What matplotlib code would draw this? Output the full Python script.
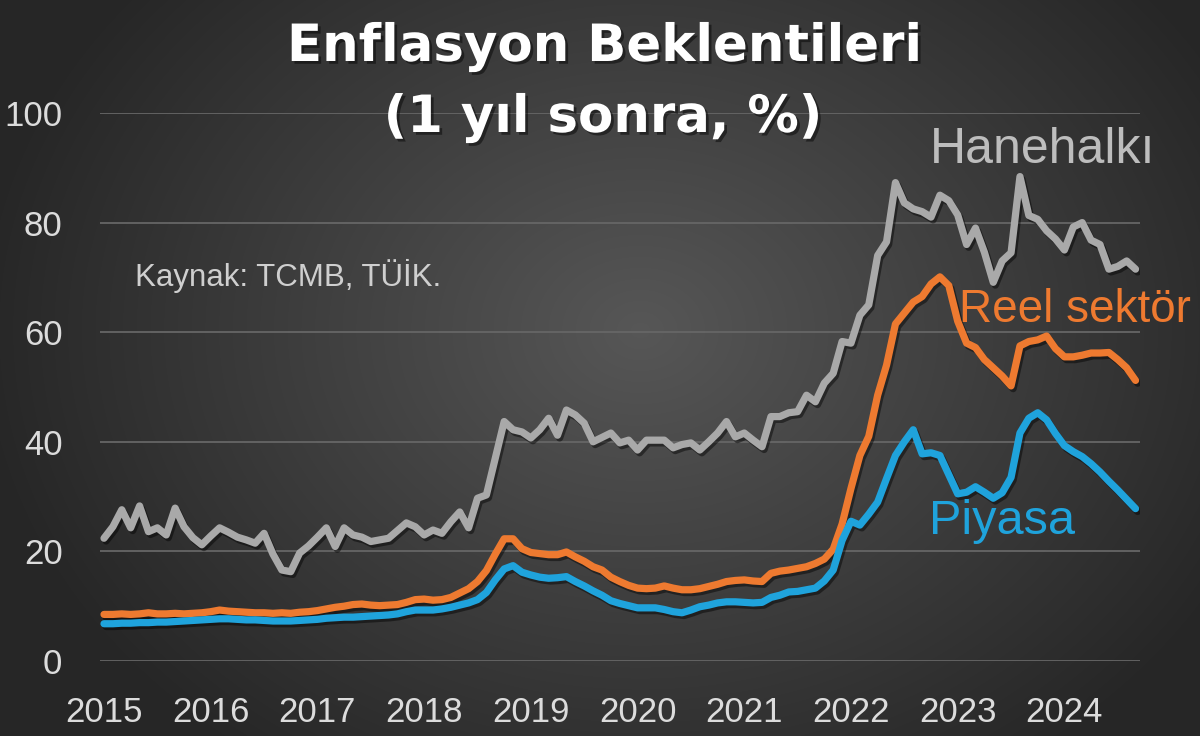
import numpy as np
import matplotlib
matplotlib.use("Agg")
import matplotlib.pyplot as plt
import matplotlib.patheffects as pe

# ---------------- data (monthly, Jan 2015 - Sep 2024) ----------------
years = ["2015", "2016", "2017", "2018", "2019", "2020", "2021", "2022", "2023", "2024"]

hanehalki = [
    22.4, 24.5, 27.6, 24.3, 28.3, 23.6, 24.3, 23.0, 27.9, 24.5, 22.5, 21.2,
    22.8, 24.3, 23.5, 22.6, 22.1, 21.5, 23.3, 19.5, 16.6, 16.3, 19.7, 21.0,
    22.6, 24.3, 20.9, 24.3, 23.0, 22.6, 21.8, 22.1, 22.4, 23.8, 25.2, 24.5,
    23.0, 23.9, 23.3, 25.4, 27.2, 24.3, 29.7, 30.3, 37.0, 43.7, 42.2, 41.8,
    40.7, 42.2, 44.3, 41.2, 45.8, 44.9, 43.4, 40.0, 40.8, 41.6, 39.8, 40.3,
    38.5, 40.3, 40.3, 40.3, 38.9, 39.5, 39.8, 38.5, 40.0, 41.6, 43.7, 40.9,
    41.6, 40.3, 39.1, 44.6, 44.6, 45.3, 45.5, 48.5, 47.3, 50.7, 52.5, 58.3,
    58.0, 63.1, 65.0, 74.0, 76.5, 87.3, 83.6, 82.5, 82.0, 81.0, 85.0, 84.0,
    81.4, 76.0, 79.0, 74.6, 69.1, 73.0, 74.5, 88.4, 81.3, 80.6, 78.5, 77.0,
    75.0, 79.2, 80.0, 76.8, 76.0, 71.5, 72.0, 73.0, 71.5,
]

reel_sektor = [
    8.5, 8.5, 8.6, 8.5, 8.6, 8.8, 8.6, 8.6, 8.7, 8.6, 8.7, 8.8,
    9.0, 9.3, 9.1, 9.0, 8.9, 8.8, 8.8, 8.7, 8.8, 8.7, 8.9, 9.0,
    9.2, 9.5, 9.8, 10.0, 10.3, 10.4, 10.2, 10.1, 10.2, 10.3, 10.7, 11.2,
    11.3, 11.1, 11.2, 11.6, 12.4, 13.2, 14.5, 16.5, 19.5, 22.3, 22.3, 20.5,
    19.8, 19.6, 19.4, 19.4, 19.9, 19.0, 18.2, 17.2, 16.6, 15.3, 14.5, 13.8,
    13.3, 13.2, 13.3, 13.7, 13.3, 13.0, 13.0, 13.2, 13.6, 14.0, 14.5, 14.7,
    14.8, 14.6, 14.5, 16.0, 16.4, 16.6, 16.9, 17.2, 17.8, 18.6, 20.4, 25.0,
    31.5, 37.5, 41.0, 48.5, 54.0, 61.5, 63.5, 65.5, 66.5, 68.8, 70.1, 68.5,
    62.0, 58.0, 57.2, 55.0, 53.5, 52.0, 50.2, 57.5, 58.3, 58.6, 59.3, 57.0,
    55.5, 55.5, 55.8, 56.2, 56.2, 56.3, 55.0, 53.5, 51.2,
]

piyasa = [
    6.8, 6.8, 6.9, 6.9, 7.0, 7.0, 7.1, 7.1, 7.2, 7.3, 7.4, 7.5,
    7.6, 7.7, 7.7, 7.6, 7.5, 7.5, 7.4, 7.3, 7.3, 7.3, 7.4, 7.5,
    7.6, 7.8, 7.9, 8.0, 8.0, 8.1, 8.2, 8.3, 8.4, 8.6, 9.0, 9.3,
    9.3, 9.3, 9.5, 9.8, 10.2, 10.6, 11.2, 12.5, 14.8, 16.8, 17.4, 16.2,
    15.7, 15.3, 15.1, 15.2, 15.4, 14.5, 13.7, 12.8, 12.0, 11.0, 10.5, 10.1,
    9.7, 9.7, 9.7, 9.4, 9.0, 8.8, 9.3, 9.9, 10.2, 10.6, 10.8, 10.8,
    10.7, 10.6, 10.7, 11.6, 12.0, 12.6, 12.7, 13.0, 13.3, 14.6, 16.6, 22.0,
    25.5, 24.8, 26.8, 29.0, 33.3, 37.5, 40.0, 42.2, 37.8, 38.0, 37.5, 34.0,
    30.5, 30.8, 31.8, 30.8, 29.7, 30.7, 33.5, 41.6, 44.3, 45.3, 44.0, 41.5,
    39.3, 38.2, 37.3, 36.0, 34.5, 32.8, 31.2, 29.5, 27.8,
]

y_ticks = [0, 20, 40, 60, 80, 100]

# ---------------- figure ----------------
W, H = 1200, 736
fig = plt.figure(figsize=(W / 100, H / 100), dpi=100)

# background radial gradient
bg = fig.add_axes([0, 0, 1, 1], zorder=-10)
yy, xx = np.mgrid[0:H, 0:W]
cx, cy = 640, 330
r = np.sqrt(((xx - cx) / 700.0) ** 2 + ((yy - cy) / 560.0) ** 2)
val = np.clip(0.34 - 0.20 * r, 0.15, 0.35)
img = np.dstack([val, val, val])
bg.imshow(img, aspect="auto", extent=[0, 1, 0, 1], origin="upper")
bg.axis("off")

px = lambda x: x / W
py = lambda y: 1 - y / H

ax = fig.add_axes([px(100), py(661), (1140 - 100) / W, (661 - 113) / H])
ax.patch.set_alpha(0)

m = np.arange(len(hanehalki))
shadow = [pe.SimpleLineShadow(offset=(1.5, -2), shadow_color="black", alpha=0.45), pe.Normal()]
ax.plot(m, hanehalki, color="#A9A9A9", lw=5.2, solid_joinstyle="round",
        solid_capstyle="round", path_effects=shadow, zorder=3)
ax.plot(m, reel_sektor, color="#EE7A30", lw=5.2, solid_joinstyle="round",
        solid_capstyle="round", path_effects=shadow, zorder=4)
ax.plot(m, piyasa, color="#1FA3DC", lw=5.2, solid_joinstyle="round",
        solid_capstyle="round", path_effects=shadow, zorder=5)

ax.set_xlim(-0.45, 116.5)
ax.set_ylim(0, 100)
ax.set_yticks(y_ticks)
ax.set_xticks(np.arange(len(years)) * 12)
ax.set_xticklabels(years)
ax.grid(axis="y", color="#666666", lw=1.3, zorder=0)
for s in ax.spines.values():
    s.set_visible(False)
ax.tick_params(axis="both", length=0, labelsize=25, labelcolor="#DCDCDC",
               labelfontfamily="Liberation Sans")
ax.tick_params(axis="y", pad=27)
ax.tick_params(axis="x", pad=25)

# titles
tfx = [pe.SimplePatchShadow(offset=(2, -2), shadow_rgbFace="black", alpha=0.45), pe.Normal()]
fig.text(px(605), py(47), "Enflasyon Beklentileri", ha="center", va="center",
         fontsize=37, fontweight="bold", color="white", family="DejaVu Sans",
         path_effects=tfx)
fig.text(px(603), py(118), "(1 yıl sonra, %)", ha="center", va="center",
         fontsize=37, fontweight="bold", color="white", family="DejaVu Sans",
         path_effects=tfx)

# series labels
fig.text(px(1043), py(150), "Hanehalkı", ha="center", va="center",
         fontsize=36, color="#BDBDBD", family="Liberation Sans")
fig.text(px(1075), py(310), "Reel sektör", ha="center", va="center",
         fontsize=33, color="#EE7A30", family="Liberation Sans")
fig.text(px(1002), py(522), "Piyasa", ha="center", va="center",
         fontsize=35, color="#1FA3DC", family="Liberation Sans")
fig.text(px(135), py(276), "Kaynak: TCMB, TÜİK.", ha="left", va="center",
         fontsize=22.5, color="#CFCFCF", family="Liberation Sans")

fig.savefig("out.png", dpi=100)
